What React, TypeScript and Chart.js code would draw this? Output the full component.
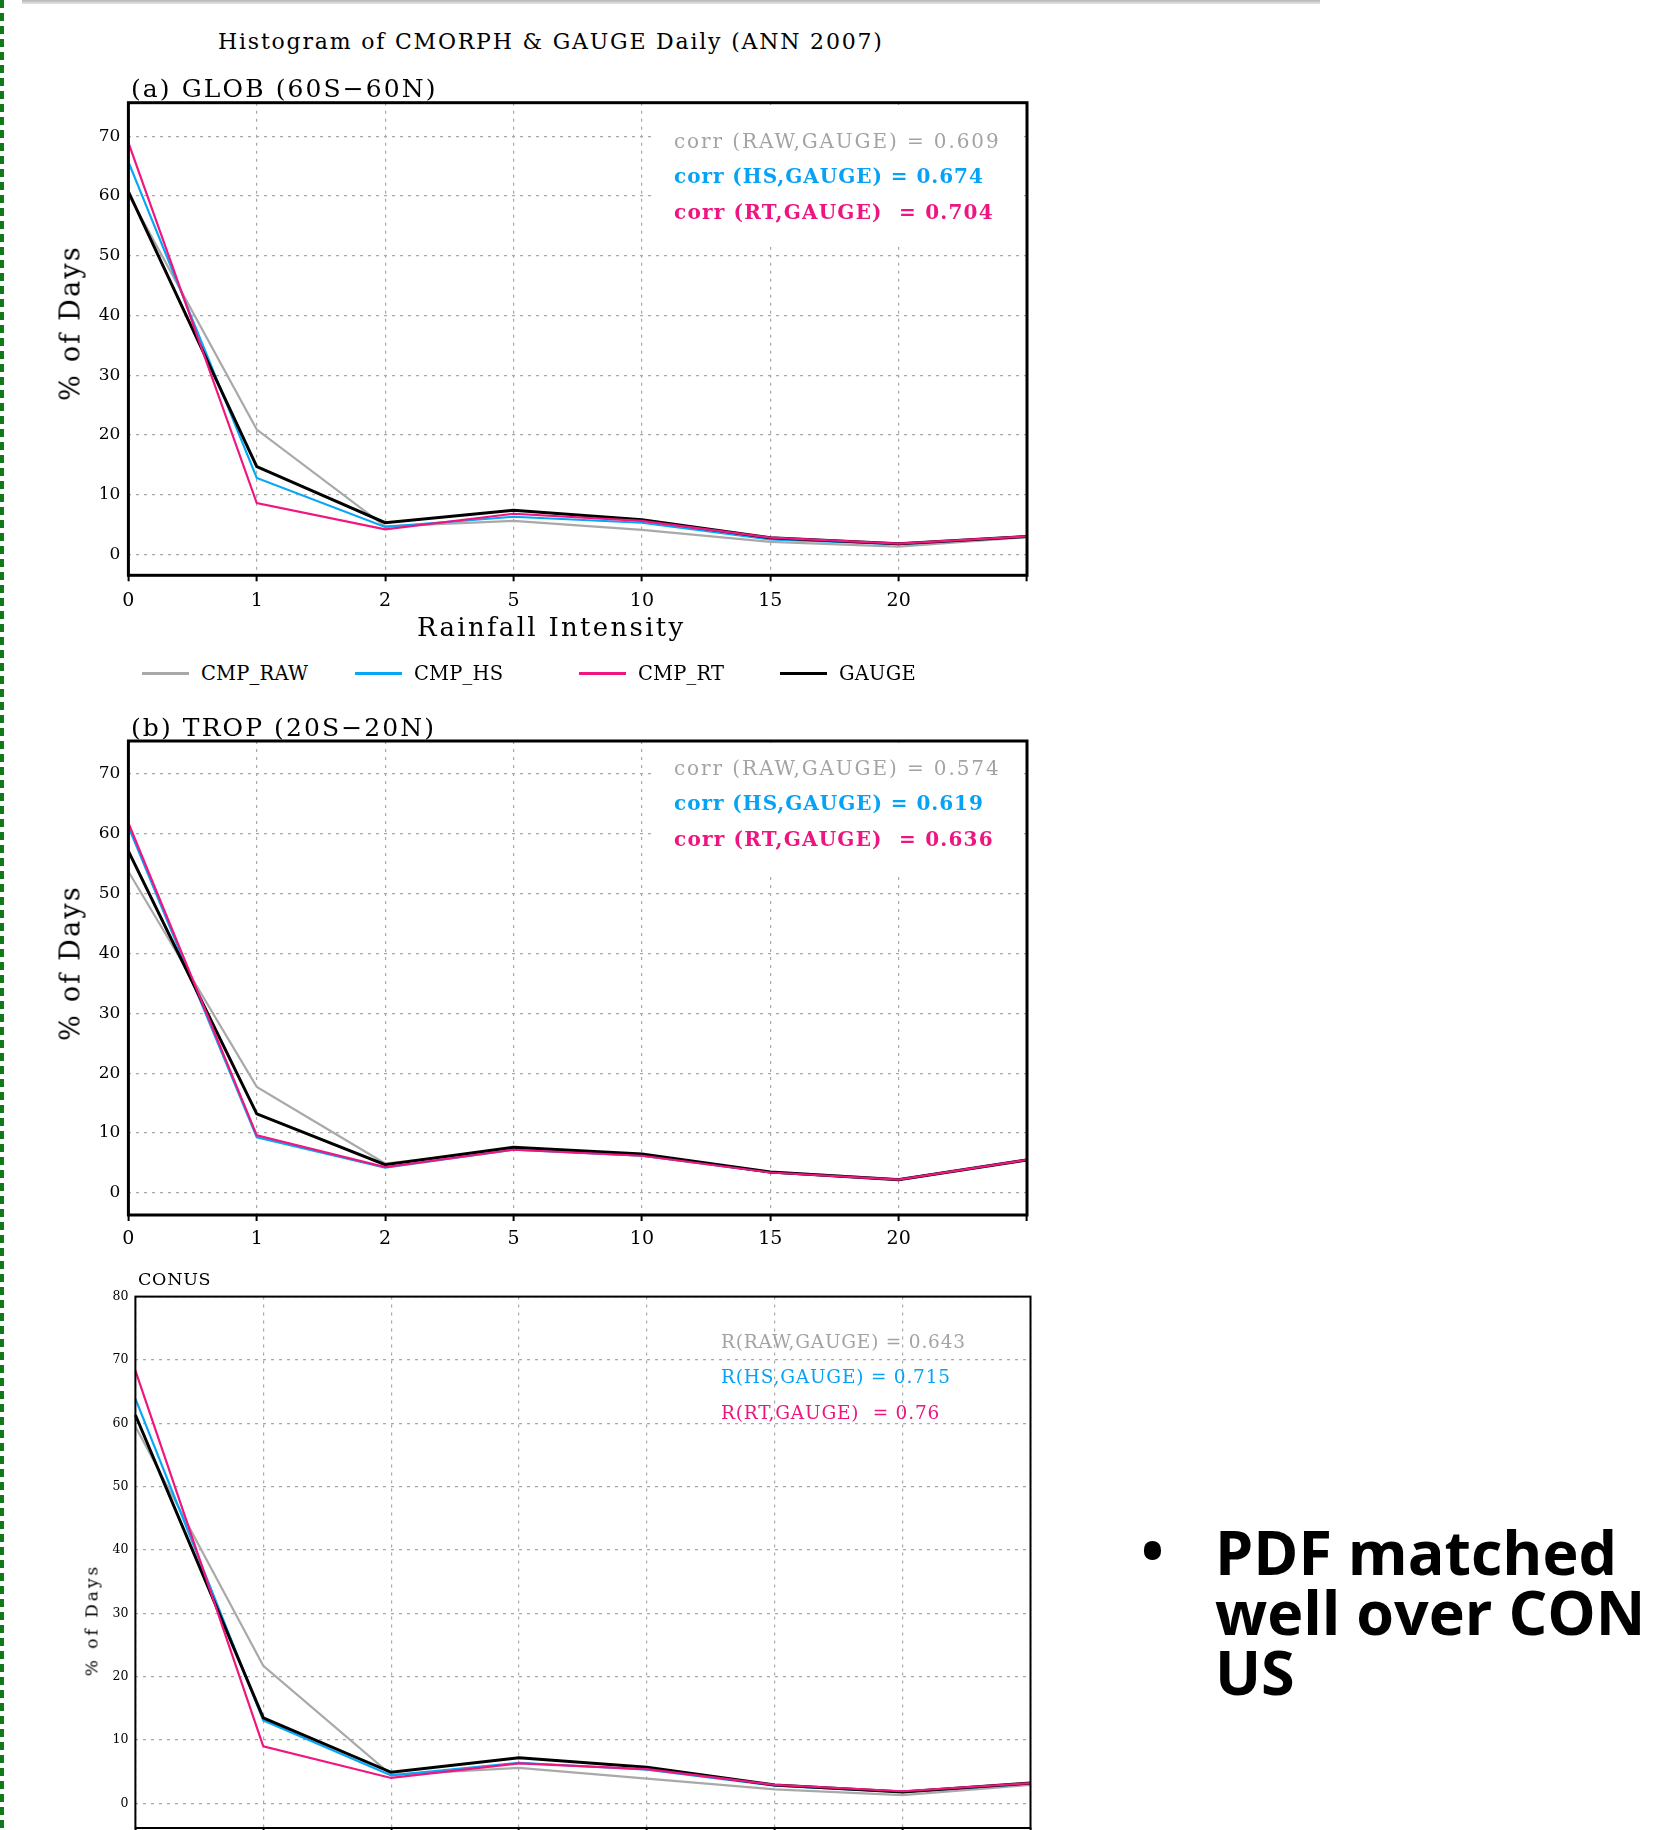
import React, { useEffect, useRef } from "react";
import { Chart, registerables } from "chart.js";

Chart.register(...registerables);

// ---------------- data ----------------
const INTENSITY_LABELS = ["0", "1", "2", "5", "10", "15", "20", ""];
const SERIES_NAMES = ["CMP_RAW", "CMP_HS", "CMP_RT", "GAUGE"];

const GLOB_RAW = [60.3, 20.9, 4.7, 5.6, 4.1, 2.1, 1.3, 2.9];
const GLOB_HS = [65.7, 12.8, 4.6, 6.3, 5.3, 2.5, 1.7, 3.0];
const GLOB_RT = [68.9, 8.6, 4.2, 6.8, 5.6, 2.8, 1.8, 3.0];
const GLOB_GAUGE = [60.7, 14.7, 5.3, 7.4, 5.8, 2.8, 1.8, 3.0];

const TROP_RAW = [53.7, 17.7, 4.9, 7.3, 6.2, 3.5, 2.3, 5.6];
const TROP_HS = [61.2, 9.3, 4.2, 7.2, 6.2, 3.4, 2.2, 5.5];
const TROP_RT = [61.8, 9.6, 4.3, 7.2, 6.2, 3.4, 2.2, 5.5];
const TROP_GAUGE = [57.1, 13.2, 4.7, 7.6, 6.5, 3.5, 2.2, 5.5];

const CONUS_RAW = [59.5, 21.7, 4.5, 5.6, 3.9, 2.2, 1.3, 2.9];
const CONUS_HS = [63.9, 13.1, 4.4, 6.4, 5.3, 2.8, 1.8, 3.1];
const CONUS_RT = [68.3, 9.0, 4.0, 6.3, 5.4, 2.9, 1.9, 3.2];
const CONUS_GAUGE = [61.3, 13.5, 4.9, 7.2, 5.7, 2.9, 1.8, 3.2];

const GLOB_CORR = ["corr (RAW,GAUGE) = 0.609", "corr (HS,GAUGE) = 0.674", "corr (RT,GAUGE)  = 0.704"];
const TROP_CORR = ["corr (RAW,GAUGE) = 0.574", "corr (HS,GAUGE) = 0.619", "corr (RT,GAUGE)  = 0.636"];
const CONUS_CORR = ["R(RAW,GAUGE) = 0.643", "R(HS,GAUGE) = 0.715", "R(RT,GAUGE)  = 0.76"];

const MAIN_TITLE = "Histogram of CMORPH & GAUGE Daily (ANN 2007)";
const PANEL_TITLES = ["(a) GLOB (60S\u221260N)", "(b) TROP (20S\u221220N)", "CONUS"];
const X_TITLE = "Rainfall Intensity";
const Y_TITLE = "% of Days";
const NOTE_LINES = ["PDF matched", "well over CON", "US"];

// ---------------- styles ----------------
const COLORS = ["#a9a9a9", "#08a6f6", "#f0167f", "#000000"];
const TEXT_COLORS = ["#a3a3a3", "#05a2f5", "#ee1580"];
const LINE_WIDTHS = [2.2, 2.2, 2.2, 3];
const DRAW_ORDER = [3, 2, 0, 1];
const SERIF = "'DejaVu Serif', 'Liberation Serif', serif";
const GRID = "#a8a8a8";

type PanelProps = {
  top: number;
  width: number;
  height: number;
  pad: { left: number; right: number; top: number; bottom: number };
  yWidth: number;
  xHeight: number;
  yMin: number;
  yMax: number;
  series: number[][];
  yFont: number;
  xFont: number;
  showX: boolean;
  xPad: number;
  yPad: number;
  frame: number;
  blank?: [number, number, number, number];
};

function Panel(p: PanelProps) {
  const ref = useRef<HTMLCanvasElement | null>(null);
  useEffect(() => {
    const c = ref.current;
    if (!c) return;
    const framePlugin = {
      id: "frame",
      beforeDatasetsDraw(chart: any) {
        if (!p.blank) return;
        const ctx = chart.ctx;
        ctx.save();
        ctx.fillStyle = "#ffffff";
        const [x1, y1, x2, y2] = p.blank;
        ctx.fillRect(x1, y1, x2 - x1, y2 - y1);
        ctx.restore();
      },
      afterDatasetsDraw(chart: any) {
        const { left, top, right, bottom } = chart.chartArea;
        const ctx = chart.ctx;
        ctx.save();
        ctx.strokeStyle = "#000";
        ctx.lineWidth = p.frame;
        ctx.strokeRect(left, top, right - left, bottom - top);
        ctx.restore();
      },
    };
    const chart = new Chart(c, {
      type: "line",
      data: {
        labels: INTENSITY_LABELS,
        datasets: p.series.map((d, i) => ({
          label: SERIES_NAMES[i],
          data: d,
          borderColor: COLORS[i],
          backgroundColor: COLORS[i],
          borderWidth: LINE_WIDTHS[i],
          pointRadius: 0,
          tension: 0,
          fill: false,
          order: DRAW_ORDER[i],
        })),
      },
      options: {
        animation: false,
        responsive: false,
        devicePixelRatio: 1,
        layout: { padding: p.pad },
        plugins: {
          legend: { display: false },
          tooltip: { enabled: false },
          title: { display: false },
        },
        scales: {
          x: {
            type: "category",
            offset: false,
            grid: {
              color: GRID,
              lineWidth: 1.2,
              drawTicks: true,
              tickLength: 6,
              tickWidth: 2,
              tickColor: "#000",
              tickBorderDash: [],
            },
            border: { display: false, dash: [3, 5] },
            ticks: {
              display: p.showX,
              autoSkip: false,
              maxRotation: 0,
              padding: p.xPad,
              color: "#000",
              font: { family: SERIF, size: p.xFont },
            },
            afterFit: (s: any) => {
              s.height = p.xHeight;
              s.paddingLeft = 0;
              s.paddingRight = 0;
            },
          },
          y: {
            type: "linear",
            min: p.yMin,
            max: p.yMax,
            grid: { color: GRID, lineWidth: 1.2, drawTicks: false },
            border: { display: false, dash: [3, 5] },
            ticks: {
              stepSize: 10,
              includeBounds: false,
              padding: p.yPad,
              color: "#000",
              font: { family: SERIF, size: p.yFont },
            },
            afterFit: (s: any) => {
              s.width = p.yWidth;
              s.paddingTop = 0;
              s.paddingBottom = 0;
            },
          },
        },
      },
      plugins: [framePlugin],
    } as any);
    return () => chart.destroy();
  }, []);
  return (
    <canvas
      ref={ref}
      width={p.width}
      height={p.height}
      style={{ position: "absolute", left: 0, top: p.top, width: p.width, height: p.height }}
    />
  );
}

function Txt(props: {
  x: number;
  y: number;
  size: number;
  ls?: number;
  color?: string;
  weight?: number | string;
  children: React.ReactNode;
}) {
  return (
    <div
      style={{
        position: "absolute",
        left: props.x,
        top: props.y,
        transform: "translateY(-50%)",
        fontFamily: SERIF,
        fontSize: props.size,
        letterSpacing: props.ls || 0,
        lineHeight: 1,
        color: props.color || "#000",
        fontWeight: props.weight || "normal",
        whiteSpace: "pre",
      }}
    >
      {props.children}
    </div>
  );
}

function VTxt(props: { cx: number; cy: number; size: number; ls: number; children: React.ReactNode }) {
  return (
    <div
      style={{
        position: "absolute",
        left: props.cx,
        top: props.cy,
        transform: "translate(-50%, -50%) rotate(-90deg)",
        fontFamily: SERIF,
        fontSize: props.size,
        letterSpacing: props.ls,
        lineHeight: 1,
        whiteSpace: "pre",
        color: "#000",
      }}
    >
      {props.children}
    </div>
  );
}

export default function App() {
  const legendX = [
    { line: 142, text: 201 },
    { line: 355, text: 414 },
    { line: 579, text: 638 },
    { line: 780, text: 839 },
  ];
  return (
    <div
      style={{
        position: "absolute",
        left: 0,
        top: 0,
        width: 1670,
        height: 1830,
        background: "#fff",
        overflow: "hidden",
      }}
    >
      {/* slide decorations */}
      <div
        style={{
          position: "absolute",
          left: 0,
          top: 0,
          width: 4,
          height: 1830,
          background: "repeating-linear-gradient(to bottom, #12791a 0px, #12791a 8px, transparent 8px, transparent 13px)",
        }}
      />
      <div
        style={{
          position: "absolute",
          left: 22,
          top: 0,
          width: 1298,
          height: 4,
          background: "linear-gradient(to bottom, #b4b4b4, #e6e6e6)",
        }}
      />

      {/* charts */}
      <Panel
        top={95}
        width={1060}
        height={560}
        pad={{ left: 10, right: 33, top: 7.7, bottom: 39.7 }}
        yWidth={118.4}
        xHeight={40}
        yMin={-3.5}
        yMax={75.6}
        series={[GLOB_RAW, GLOB_HS, GLOB_RT, GLOB_GAUGE]}
        yFont={17}
        xFont={19}
        showX={true}
        xPad={8}
        yPad={8}
        frame={3}
        blank={[653, 10, 1024, 152]}
      />
      <Panel
        top={735}
        width={1060}
        height={540}
        pad={{ left: 10, right: 33, top: 6, bottom: 20 }}
        yWidth={118.4}
        xHeight={40}
        yMin={-3.7}
        yMax={75.5}
        series={[TROP_RAW, TROP_HS, TROP_RT, TROP_GAUGE]}
        yFont={17}
        xFont={19}
        showX={true}
        xPad={7}
        yPad={8}
        frame={3}
        blank={[653, 8, 1024, 140]}
      />
      <Panel
        top={1290}
        width={1060}
        height={540}
        pad={{ left: 10, right: 29.5, top: 6.6, bottom: 2 }}
        yWidth={125.4}
        xHeight={0}
        yMin={-3.9}
        yMax={80}
        series={[CONUS_RAW, CONUS_HS, CONUS_RT, CONUS_GAUGE]}
        yFont={12.5}
        xFont={12}
        showX={false}
        xPad={4}
        yPad={7}
        frame={2}
      />

      {/* texts */}
      <Txt x={218} y={42} size={22} ls={1.8}>{MAIN_TITLE}</Txt>
      <Txt x={131} y={88} size={25} ls={2.1}>{PANEL_TITLES[0]}</Txt>
      <Txt x={131} y={727} size={25} ls={2.1}>{PANEL_TITLES[1]}</Txt>
      <Txt x={138} y={1280} size={17.5} ls={0.7}>{PANEL_TITLES[2]}</Txt>

      <Txt x={417} y={627} size={26} ls={2.3}>{X_TITLE}</Txt>
      <VTxt cx={70} cy={323} size={27} ls={2.2}>{Y_TITLE}</VTxt>
      <VTxt cx={70} cy={963} size={27} ls={2.2}>{Y_TITLE}</VTxt>
      <VTxt cx={92} cy={1620} size={17} ls={3}>{Y_TITLE}</VTxt>

      {legendX.map((l, i) => (
        <React.Fragment key={i}>
          <div
            style={{
              position: "absolute",
              left: l.line,
              top: 672,
              width: 47,
              height: 3,
              background: COLORS[i],
            }}
          />
          <Txt x={l.text} y={674} size={19.5} ls={0.2}>{SERIES_NAMES[i]}</Txt>
        </React.Fragment>
      ))}

      {GLOB_CORR.map((t, i) => (
        <Txt
          key={"a" + i}
          x={674}
          y={[141, 176, 212][i]}
          size={20}
          ls={i === 0 ? 1.9 : i === 1 ? 0.96 : 1.2}
          color={TEXT_COLORS[i]}
          weight={i === 0 ? "normal" : "bold"}
        >
          {t}
        </Txt>
      ))}
      {TROP_CORR.map((t, i) => (
        <Txt
          key={"b" + i}
          x={674}
          y={[768, 803, 839][i]}
          size={20}
          ls={i === 0 ? 1.9 : i === 1 ? 0.96 : 1.2}
          color={TEXT_COLORS[i]}
          weight={i === 0 ? "normal" : "bold"}
        >
          {t}
        </Txt>
      ))}
      {CONUS_CORR.map((t, i) => (
        <Txt key={"c" + i} x={721} y={[1342, 1377, 1413][i]} size={18.5} ls={0.8} color={TEXT_COLORS[i]}>
          {t}
        </Txt>
      ))}

      {/* bullet note */}
      <div
        style={{
          position: "absolute",
          left: 1141,
          top: 1520,
          fontFamily: "'Open Sans', 'Noto Sans', sans-serif",
          fontWeight: 700,
          fontSize: 61,
          lineHeight: "60px",
        }}
      >
        {"\u2022"}
      </div>
      <div
        style={{
          position: "absolute",
          left: 1215,
          top: 1522,
          fontFamily: "'Open Sans', 'Noto Sans', sans-serif",
          fontWeight: 700,
          fontSize: 61,
          lineHeight: "60px",
          color: "#000",
          whiteSpace: "pre",
        }}
      >
        {NOTE_LINES.map((l, i) => (
          <div key={i}>{l}</div>
        ))}
      </div>
    </div>
  );
}
